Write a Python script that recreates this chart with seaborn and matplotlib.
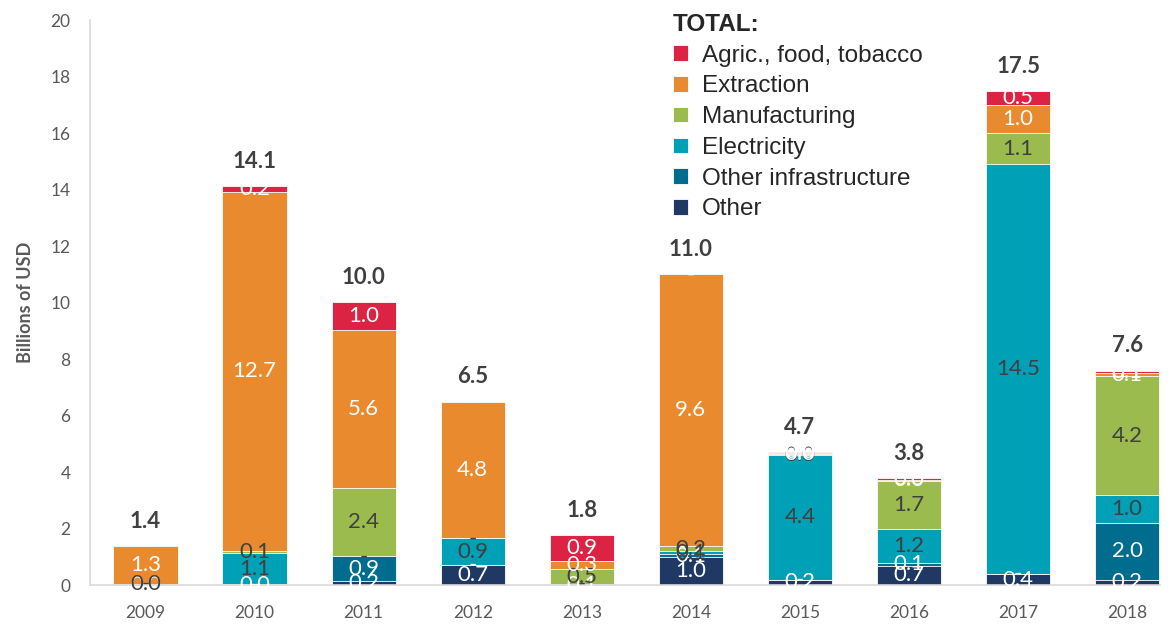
import numpy as np
import pandas as pd
import matplotlib
matplotlib.use("Agg")
import matplotlib.pyplot as plt
import seaborn as sns

# Data (billions of USD)
years = ["2009", "2010", "2011", "2012", "2013", "2014", "2015", "2016", "2017", "2018"]
other = [0.03, 0.03, 0.16, 0.72, 0.05, 1.0, 0.2, 0.7, 0.4, 0.2]
other_infra = [0.0, 0.0, 0.86, 0.0, 0.0, 0.1, 0.0, 0.1, 0.0, 2.0]
electricity = [0.02, 1.1, 0.0, 0.94, 0.0, 0.1, 4.4, 1.2, 14.5, 1.0]
manufacturing = [0.0, 0.1, 2.42, 0.0, 0.52, 0.2, 0.04, 1.7, 1.1, 4.2]
extraction = [1.34, 12.7, 5.58, 4.84, 0.3, 9.6, 0.04, 0.04, 1.0, 0.1]
agric = [0.0, 0.2, 0.99, 0.0, 0.9, 0.0, 0.04, 0.04, 0.5, 0.1]

series_names = ["Other", "Other infrastructure", "Electricity",
                "Manufacturing", "Extraction", "Agric., food, tobacco"]
series_vals = [other, other_infra, electricity, manufacturing, extraction, agric]
colors = ["#1f3864", "#006c8e", "#00a0b7", "#9bbb4f", "#ea8a2e", "#dc2344"]
label_colors = ["white", "white", "#404040", "#404040", "white", "white"]

df = pd.DataFrame({"year": years})
for name, vals in zip(series_names, series_vals):
    df[name] = vals
cum = df[series_names].cumsum(axis=1)
totals = cum[series_names[-1]]

sns.set_theme(style="white")
plt.rcParams["font.family"] = ["Lato", "DejaVu Sans"]

fig = plt.figure(figsize=(11.68, 6.28), dpi=100)
ax = fig.add_axes([0.077, 0.068, 0.916, 0.9])

# Draw stacked bars as overlaid cumulative bars (top layer first)
for i in range(len(series_names) - 1, -1, -1):
    name = series_names[i]
    sns.barplot(x=df["year"], y=cum[name], color=colors[i], width=0.59,
                edgecolor="white", linewidth=0.6, saturation=1, ax=ax,
                order=years, label=name)

# Segment labels
for i, name in enumerate(series_names):
    bottom = cum[name] - df[name]
    for j, v in enumerate(df[name]):
        y = bottom[j] + v / 2
        txt = "-" if v == 0 else f"{v:.1f}"
        ax.text(j, y, txt, ha="center", va="center", fontsize=16,
                color=label_colors[i])

# Total labels
for j, t in enumerate(totals):
    ax.text(j, t + 0.5, f"{t + 1e-9:.1f}", ha="center", va="bottom",
            fontsize=16, fontweight="bold", color="#404040")

ax.set_ylim(0, 20)
ax.set_xlim(-0.51, 9.3)
ax.set_yticks(np.arange(0, 21, 2))
ax.tick_params(axis="both", labelsize=12.5, colors="#595959", length=0)
ax.tick_params(axis="y", pad=14)
ax.tick_params(axis="x", pad=14)
ax.set_xlabel("")
ax.set_ylabel("Billions of USD", fontsize=13, fontweight="bold", color="#595959",
              labelpad=12)
sns.despine(ax=ax, top=True, right=True)
ax.spines["left"].set_color("#d9d9d9")
ax.spines["bottom"].set_color("#d9d9d9")
ax.spines["left"].set_linewidth(1.2)
ax.spines["bottom"].set_linewidth(1.2)

# Legend (top series first), placed in the figure like the reference
handles, labels = ax.get_legend_handles_labels()
if ax.get_legend() is not None:
    ax.get_legend().remove()
leg = fig.legend(handles, labels, loc="upper left", bbox_to_anchor=(0.568, 0.995),
                 title="TOTAL:", frameon=False, handlelength=0.6, handleheight=0.6,
                 handletextpad=0.6, labelspacing=0.36, borderaxespad=0,
                 prop={"family": "Liberation Sans", "size": 17.5},
                 title_fontproperties={"family": "Liberation Sans", "size": 17.5,
                                       "weight": "bold"})
leg._legend_box.align = "left"

fig.savefig("out.png", dpi=100)
